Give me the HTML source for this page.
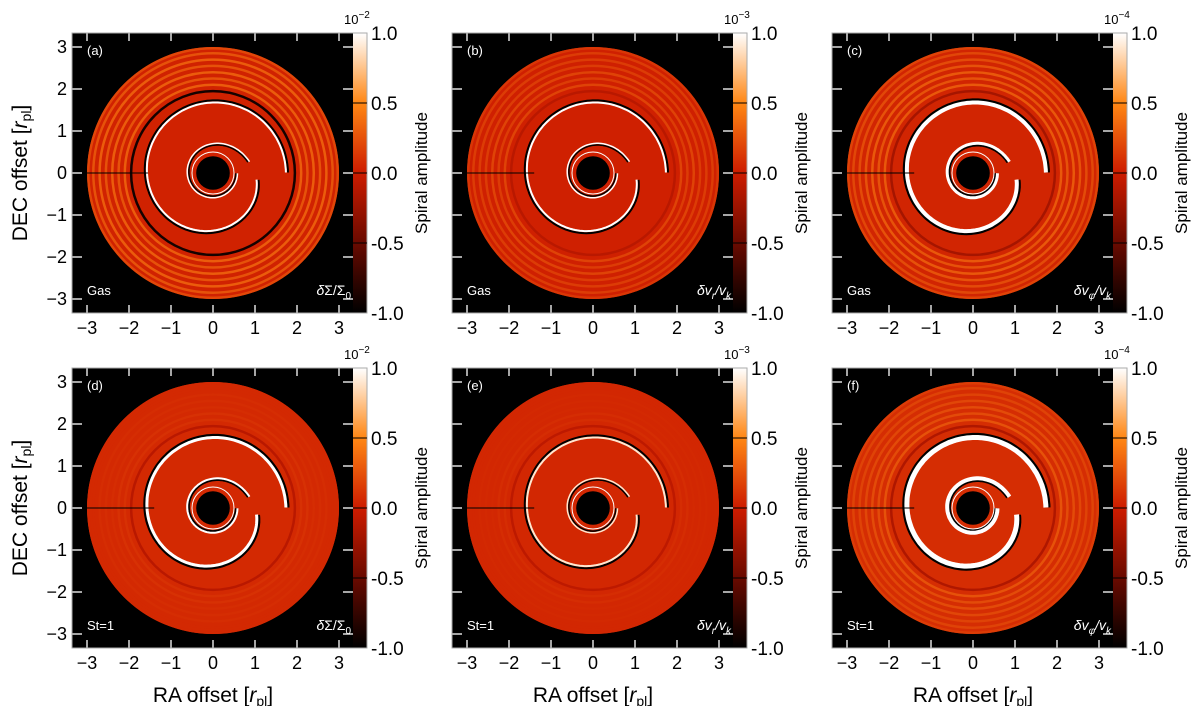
<!DOCTYPE html>
<html><head><meta charset="utf-8"><style>
html,body{margin:0;padding:0;background:#fff;}
svg{display:block;font-family:"Liberation Sans","DejaVu Sans",sans-serif;}
</style></head><body>
<svg id="fig" width="1200" height="706" viewBox="0 0 1200 706" xmlns="http://www.w3.org/2000/svg"></svg>
<script>
// ---- data ----
const panelLetters = ["a","b","c","d","e","f"];
const panelSpecies = ["Gas","Gas","Gas","St=1","St=1","St=1"];
const panelQuantity = ["Σ","r","φ","Σ","r","φ"];
const panelExponent = ["-2","-3","-4","-2","-3","-4"];
const baseAmp = [0.03, 0.02, 0.04, 0.06, 0.05, 0.08];
const ringRadii = [1.95, 2.1, 2.25, 2.4, 2.55, 2.7, 2.85, 2.97];
const ringAmpA = [-0.9, 0.3, 0.25, 0.3, 0.25, 0.3, 0.25, 0.2];
const ringAmpB = [-0.1, 0.18, 0.15, 0.18, 0.15, 0.15, 0.15, 0.12];
const ringAmpC = [-0.2, 0.28, 0.25, 0.28, 0.25, 0.22, 0.2, 0.18];
const ringAmpD = [-0.1, 0.1, 0.1, 0.08, 0.08, 0.08, 0.06, 0.06];
const ringAmpE = [-0.08, 0.08, 0.08, 0.06, 0.06, 0.06, 0.05, 0.05];
const ringAmpF = [-0.15, 0.25, 0.22, 0.22, 0.2, 0.18, 0.18, 0.15];
const ringAmps = [ringAmpA, ringAmpB, ringAmpC, ringAmpD, ringAmpE, ringAmpF];
const wakeWhite = [1.0, 1.0, 1.0, 1.0, 0.9, 1.0];
const wakeWidth = [2, 2, 4, 3, 2, 5];
const axisTicks = [-3,-2,-1,0,1,2,3];
const axisTickLabels = ["−3","−2","−1","0","1","2","3"];
const cbarTicks = [1.0, 0.5, 0.0, -0.5, -1.0];
const cbarTickLabels = ["1.0","0.5","0.0","-0.5","-1.0"];

// ---- helpers ----
const NS="http://www.w3.org/2000/svg";
const svg=document.getElementById('fig');
function mk(tag, attrs, parent){const e=document.createElementNS(NS,tag);for(const k in attrs)e.setAttribute(k,attrs[k]);(parent||svg).appendChild(e);return e;}
const stops=[[-1,[0,0,0]],[-0.5,[105,10,0]],[0,[205,28,0]],[0.5,[255,135,20]],[1,[255,255,255]]];
function cmap(t){t=Math.max(-1,Math.min(1,t));for(let i=0;i<stops.length-1;i++){const a=stops[i],b=stops[i+1];if(t<=b[0]){const f=(t-a[0])/(b[0]-a[0]);const c=a[1].map((v,j)=>Math.round(v+(b[1][j]-v)*f));return `rgb(${c[0]},${c[1]},${c[2]})`;}}return 'rgb(255,255,255)';}
const S=42;
const defs=mk('defs',{});
const grad=mk('linearGradient',{id:'cbg',x1:0,y1:1,x2:0,y2:0},defs);
for(let i=0;i<=20;i++){const t=-1+i*0.1;mk('stop',{offset:(i/20),'stop-color':cmap(t)},grad);}

for(let p=0;p<6;p++){
  const col=p%3,row=Math.floor(p/3);
  const cx=213+380*col, cy=173+335*row;
  const xs=v=>cx+v*S, ys=v=>cy-v*S;
  const g=mk('g',{});
  
  
  const left=cx-141, top=cy-140;
  const bg=mk('rect',{x:left,y:top,width:281,height:280,fill:'#000'},g);
  
  
  const disk=mk('circle',{cx:cx,cy:cy,r:3*S,fill:cmap(baseAmp[p])},g);
  
  
  ringRadii.forEach((r,i)=>{
    const c=mk('circle',{cx:cx,cy:cy,r:r*S,fill:'none',stroke:cmap(ringAmps[p][i]),'stroke-width':2.5},g);
    
    
  });
  function wake(off,color,w,inner){
    let d='';
    if(!inner){for(let k=0;k<=160;k++){const th=-0.15-k/160*1.95*Math.PI;const r=1+0.8*(1-Math.exp(th/2.5))+off;d+=(k?'L':'M')+xs(r*Math.cos(th)).toFixed(1)+','+ys(r*Math.sin(th)).toFixed(1);}}
    else{for(let k=0;k<=120;k++){const th=0.3+k/120*1.9*Math.PI;const r=0.58+0.42*Math.exp(-th*0.8)+off;d+=(k?'L':'M')+xs(r*Math.cos(th)).toFixed(1)+','+ys(r*Math.sin(th)).toFixed(1);}}
    const e=mk('path',{d:d,fill:'none',stroke:color,'stroke-width':w},g);
    
    
  }
  wake(0.05,'#000',wakeWidth[p],false);
  wake(0,cmap(wakeWhite[p]),wakeWidth[p],false);
  wake(-0.04,'#000',Math.max(1.5,wakeWidth[p]-1),true);
  wake(0,cmap(wakeWhite[p]),Math.max(1.5,wakeWidth[p]-1),true);
  const ir=mk('circle',{cx:cx,cy:cy,r:0.5*S,fill:'none',stroke:'#fff','stroke-width':1},g);
  
  
  const hole=mk('circle',{cx:cx,cy:cy,r:0.4*S,fill:'#000'},g);
  
  
  const ln=mk('line',{x1:xs(-3),y1:cy,x2:xs(p===0?-1.55:-1.4),y2:cy,stroke:'#000','stroke-width':1},g);
  
  
  axisTicks.forEach((v,i)=>{
    const tk=[[xs(v),top,xs(v),top+8],[xs(v),top+280,xs(v),top+272],[left,ys(v),left+10,ys(v)],[cx+140,ys(v),cx+130,ys(v)]];
    tk.forEach(t=>{const l=mk('line',{x1:t[0],y1:t[1],x2:t[2],y2:t[3],stroke:'#fff','stroke-width':1.3},g);
      
      });
    const xl=mk('text',{x:xs(v),y:top+301,'font-size':18,'text-anchor':'middle',fill:'#000'},g);xl.textContent=axisTickLabels[i];
    
    
    if(col===0){const yl=mk('text',{x:left-5,y:ys(v)+6,'font-size':18,'text-anchor':'end',fill:'#000'},g);yl.textContent=axisTickLabels[i];
      
      }
  });
  const la=mk('text',{x:left+15,y:top+22,'font-size':13,fill:'#fff'},g);la.textContent='('+panelLetters[p]+')';
  
  
  const sp=mk('text',{x:left+15,y:top+262,'font-size':13,fill:'#fff'},g);sp.textContent=panelSpecies[p];
  
  
  const q=mk('text',{x:cx+138,y:top+262,'font-size':14,fill:'#fff','text-anchor':'end'},g);
  const qq=panelQuantity[p];
  if(qq==='Σ') q.innerHTML='<tspan font-style="italic">δ</tspan>Σ/Σ<tspan font-size="10" dy="4">0</tspan>';
  else q.innerHTML='<tspan font-style="italic">δv</tspan><tspan font-size="10" dy="4" font-style="italic">'+qq+'</tspan><tspan dy="-4" font-style="italic">/v</tspan><tspan font-size="10" dy="4" font-style="italic">k</tspan>';
  
  
  const cb=mk('rect',{x:cx+140,y:top,width:14,height:280,fill:'url(#cbg)'},g);
  
  
  const frame=mk('rect',{x:left,y:top,width:295,height:280,fill:'none',stroke:'#aaa','stroke-width':1},g);
  
  
  cbarTicks.forEach((v,i)=>{
    const yy=cy-v*140;
    const l1=mk('line',{x1:cx+140,y1:yy,x2:cx+154,y2:yy,stroke:'#000','stroke-width':v===1||v===-1?0:1},g);
    
    
    const t=mk('text',{x:cx+158,y:yy+7,'font-size':19,fill:'#000'},g);t.textContent=cbarTickLabels[i];
    
    
  });
  const ex=mk('text',{x:cx+131,y:top-9,'font-size':13,fill:'#000'},g);
  
  
  ex.innerHTML='10<tspan dy="-6" font-size="10">'+panelExponent[p].replace('-','−')+'</tspan>';
  const sa=mk('text',{x:0,y:0,'font-size':17,fill:'#000','text-anchor':'middle',transform:`translate(${cx+214},${cy}) rotate(-90)`},g);sa.textContent='Spiral amplitude';
  
  
  if(row===1){const xt=mk('text',{x:cx,y:top+334,'font-size':21,'text-anchor':'middle',fill:'#000'},g);
    xt.innerHTML='RA offset [<tspan font-style="italic">r</tspan><tspan font-size="14" dy="4">pl</tspan><tspan dy="-4">]</tspan>';
    
    }
  if(col===0){const yt=mk('text',{x:0,y:0,'font-size':21,'text-anchor':'middle',fill:'#000',transform:`translate(27,${cy}) rotate(-90)`},g);
    yt.innerHTML='DEC offset [<tspan font-style="italic">r</tspan><tspan font-size="14" dy="4">pl</tspan><tspan dy="-4">]</tspan>';
    
    }
}
</script>
</body></html>
